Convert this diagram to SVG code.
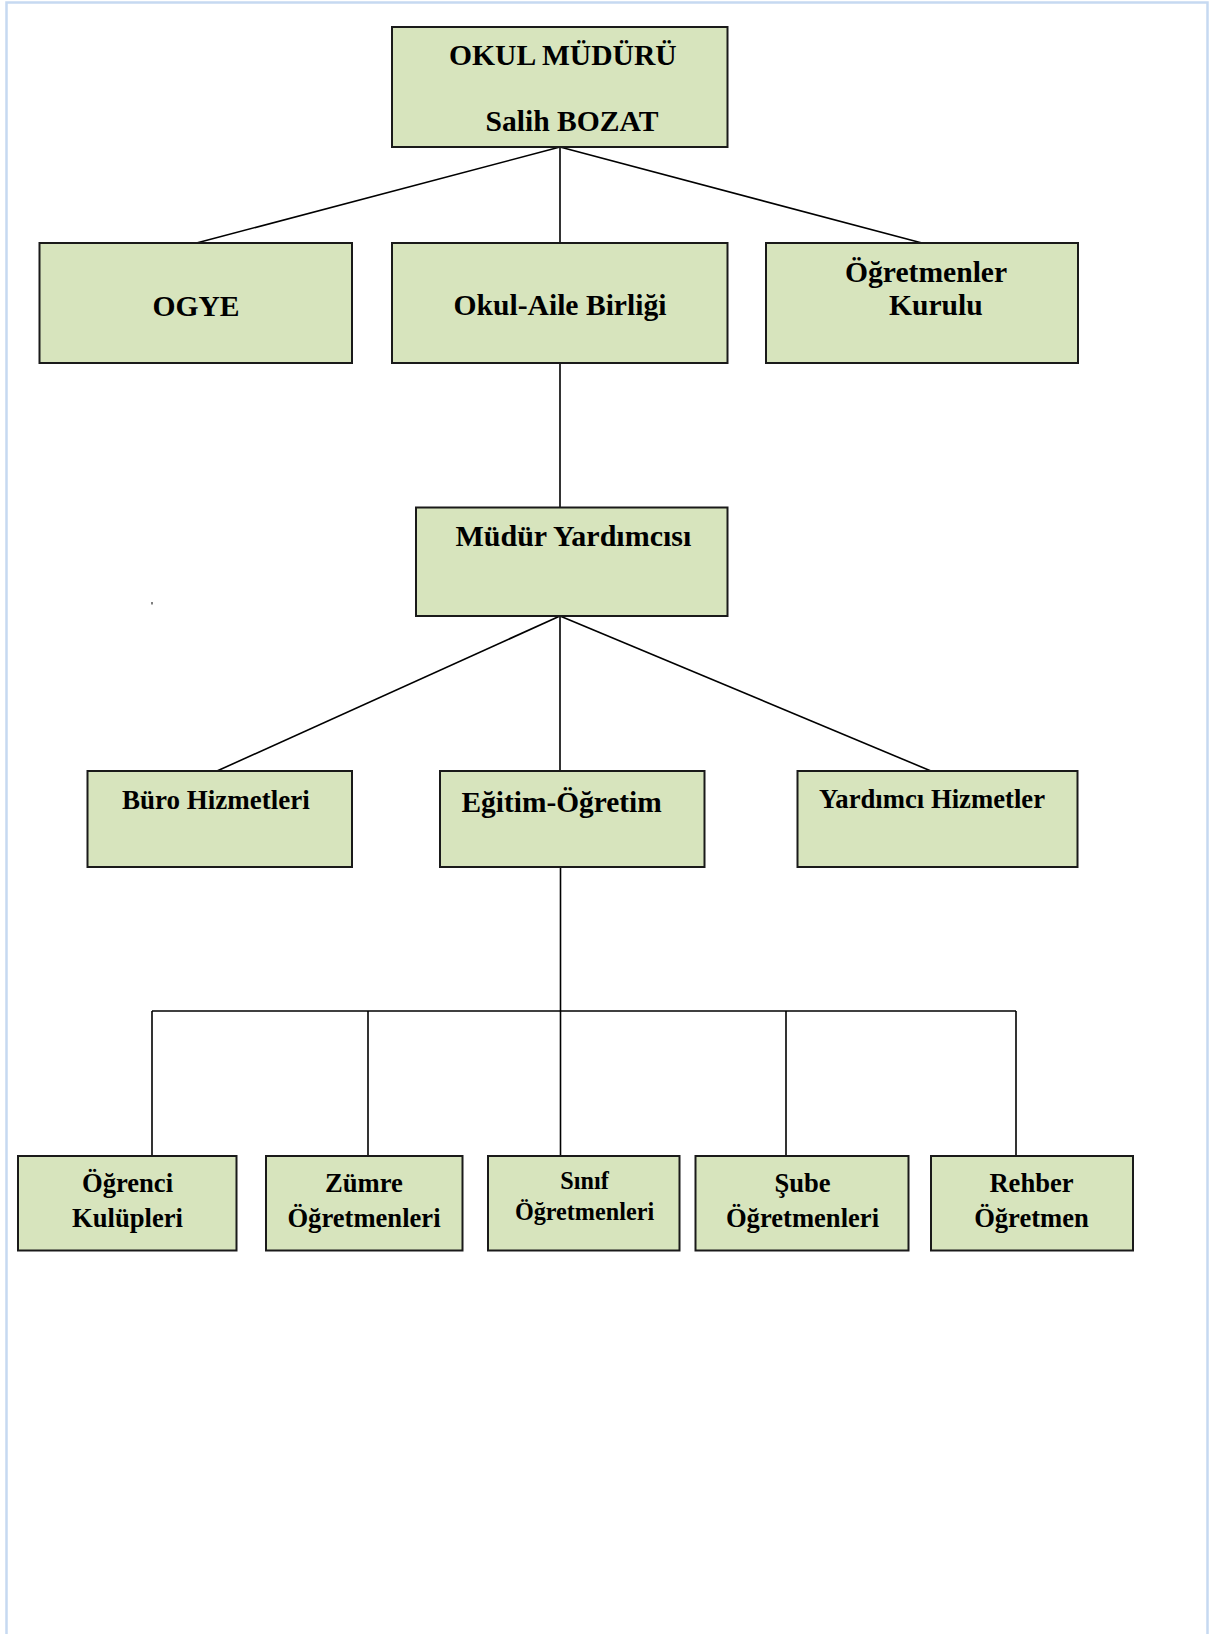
<svg xmlns="http://www.w3.org/2000/svg" width="1210" height="1634" viewBox="0 0 1210 1634">
<style>
.box{fill:#D7E4BD;stroke:#1a1a1a;stroke-width:2}
.t{font-family:"Liberation Serif","Times New Roman",serif;font-weight:bold;fill:#000}
.c{text-anchor:middle}
.ln{stroke:#000;stroke-width:1.6;fill:none}
</style>
<rect width="1210" height="1634" fill="#fff"/>
<path d="M6.5,1634 V2.5 H1207.5 V1634" fill="none" stroke="#C6D9F1" stroke-width="2.5"/>
<rect x="151.5" y="602" width="1" height="2.5" fill="#000"/>
<g id="connectors">
<line class="ln" x1="560" y1="147" x2="196.5" y2="243"/>
<line class="ln" x1="560" y1="147" x2="560" y2="243"/>
<line class="ln" x1="560" y1="147" x2="922" y2="243"/>
<line class="ln" x1="560" y1="363" x2="560" y2="507"/>
<line class="ln" x1="560" y1="616" x2="217" y2="771"/>
<line class="ln" x1="560" y1="616" x2="560" y2="771"/>
<line class="ln" x1="560" y1="616" x2="931" y2="771"/>
<line class="ln" x1="560.5" y1="867" x2="560.5" y2="1011"/>
<line class="ln" x1="152" y1="1011" x2="1016" y2="1011"/>
<line class="ln" x1="152" y1="1011" x2="152" y2="1156"/>
<line class="ln" x1="368" y1="1011" x2="368" y2="1156"/>
<line class="ln" x1="560.5" y1="1011" x2="560.5" y2="1156"/>
<line class="ln" x1="786" y1="1011" x2="786" y2="1156"/>
<line class="ln" x1="1016" y1="1011" x2="1016" y2="1156"/>
</g>
<g id="okul-muduru">
<rect class="box" x="392" y="27" width="335.5" height="120"/>
<text class="t" x="449" y="65" font-size="29.6">OKUL MÜDÜRÜ</text>
<text class="t" x="485.5" y="131" font-size="29.6">Salih BOZAT</text>
</g>
<g id="ogye">
<rect class="box" x="39.5" y="243" width="312.5" height="120"/>
<text class="t c" x="196" y="316" font-size="29.6">OGYE</text>
</g>
<g id="okul-aile">
<rect class="box" x="392" y="243" width="335.5" height="120"/>
<text class="t c" x="560" y="315" font-size="29.6">Okul-Aile Birliği</text>
</g>
<g id="ogretmenler-kurulu">
<rect class="box" x="766" y="243" width="312" height="120"/>
<text class="t" x="845" y="282" font-size="29.6">Öğretmenler</text>
<text class="t" x="889" y="315" font-size="29.6">Kurulu</text>
</g>
<g id="mudur-yardimcisi">
<rect class="box" x="416" y="507.5" width="311.5" height="108.5"/>
<text class="t" x="455.5" y="546" font-size="30">Müdür Yardımcısı</text>
</g>
<g id="buro">
<rect class="box" x="87.5" y="771" width="264.5" height="96"/>
<text class="t" x="122" y="808.5" font-size="27">Büro Hizmetleri</text>
</g>
<g id="egitim">
<rect class="box" x="440" y="771" width="264.5" height="96"/>
<text class="t" x="461.5" y="812" font-size="29.4">Eğitim-Öğretim</text>
</g>
<g id="yardimci">
<rect class="box" x="797.5" y="771" width="280" height="96"/>
<text class="t" x="819" y="807.5" font-size="26.7">Yardımcı Hizmetler</text>
</g>
<g id="ogrenci-kulupleri">
<rect class="box" x="18" y="1156" width="218.5" height="94.5"/>
<text class="t c" x="127.5" y="1192" font-size="26.6">Öğrenci</text>
<text class="t c" x="127.5" y="1227" font-size="26.6">Kulüpleri</text>
</g>
<g id="zumre">
<rect class="box" x="266" y="1156" width="196.5" height="94.5"/>
<text class="t c" x="364" y="1192" font-size="26.6">Zümre</text>
<text class="t c" x="364" y="1227" font-size="26.6">Öğretmenleri</text>
</g>
<g id="sinif">
<rect class="box" x="488" y="1156" width="191.5" height="94.5"/>
<text class="t c" x="584.5" y="1189" font-size="24.2">Sınıf</text>
<text class="t c" x="584.5" y="1220" font-size="24.2">Öğretmenleri</text>
</g>
<g id="sube">
<rect class="box" x="695.5" y="1156" width="213" height="94.5"/>
<text class="t c" x="802.5" y="1192" font-size="26.6">Şube</text>
<text class="t c" x="802.5" y="1227" font-size="26.6">Öğretmenleri</text>
</g>
<g id="rehber">
<rect class="box" x="931" y="1156" width="202" height="94.5"/>
<text class="t c" x="1031.5" y="1192" font-size="26.6">Rehber</text>
<text class="t c" x="1031.5" y="1227" font-size="26.6">Öğretmen</text>
</g>
</svg>
